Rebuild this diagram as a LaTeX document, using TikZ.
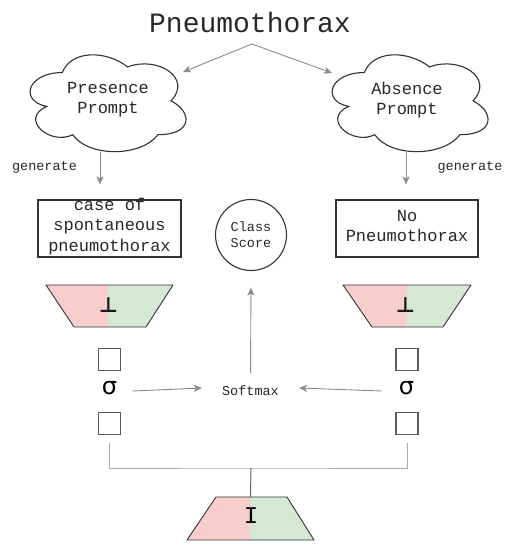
\documentclass[tikz,border=0pt]{standalone}
\usepackage{fontspec}
\setmainfont{Liberation Mono}
\newfontfamily\symfont{DejaVu Sans}
\usetikzlibrary{arrows.meta}
\definecolor{arrc}{RGB}{140,140,140}
\definecolor{linec}{RGB}{170,170,170}
\definecolor{darkc}{RGB}{50,50,50}
\definecolor{txtc}{RGB}{40,40,40}
\definecolor{pinkf}{HTML}{F8CECC}
\definecolor{greenf}{HTML}{D5E8D4}
\tikzset{
  arr/.style={draw=arrc, line width=0.9pt, -{Stealth[length=8pt,width=7pt,inset=2pt]}},
  conn/.style={draw=linec, line width=1pt},
  conndark/.style={draw=gray!80!black, line width=1pt},
  cloudline/.style={draw=darkc, line width=1.1pt, fill=white},
  cloudbox/.style={minimum width=174pt, minimum height=113pt, inner sep=0pt, align=center, text=txtc, font=\fontsize{17}{20}\selectfont},
  textbox/.style={draw=darkc, line width=1.1pt, minimum width=143pt, minimum height=57pt, inner sep=0pt},
  boxtext/.style={align=center, text=txtc, inner sep=0pt, font=\fontsize{17}{20.5}\selectfont},
  smallsq/.style={draw=darkc!80, line width=1.3pt, minimum size=22pt, inner sep=0pt},
  sigmanode/.style={inner sep=0pt, text=black, font=\symfont\fontsize{24}{24}\selectfont},
  labeltext/.style={text=txtc, inner sep=0pt, font=\fontsize{13.5}{16}\selectfont},
  trapnode/.style={inner sep=0pt, minimum width=127pt, minimum height=42pt},
  perpnode/.style={inner sep=0pt, text=black!90, font=\symfont\bfseries\fontsize{21}{21}\selectfont},
}
\newcommand\mycloud[3]{%
  \draw[cloudline, shift={(#1.north west)}]
    ({0.25*#2},{0.25*#3}) .. controls ({0.05*#2},{0.25*#3}) and (0,{0.5*#3}) .. ({0.16*#2},{0.55*#3})
    .. controls (0,{0.66*#3}) and ({0.18*#2},{0.9*#3}) .. ({0.31*#2},{0.8*#3})
    .. controls ({0.4*#2},{#3}) and ({0.7*#2},{#3}) .. ({0.8*#2},{0.8*#3})
    .. controls ({#2},{0.8*#3}) and ({#2},{0.6*#3}) .. ({0.875*#2},{0.5*#3})
    .. controls ({#2},{0.3*#3}) and ({0.8*#2},{0.1*#3}) .. ({0.625*#2},{0.2*#3})
    .. controls ({0.5*#2},{0.05*#3}) and ({0.3*#2},{0.05*#3}) .. ({0.25*#2},{0.25*#3}) -- cycle;}
% #1 ytop, #2 ybot, #3 xtl, #4 xtr, #5 xbl, #6 xbr, #7 split
\newcommand\mytrap[7]{%
  \fill[pinkf] (#3,#1) -- (#7,#1) -- (#7,#2) -- (#5,#2) -- cycle;
  \fill[greenf] (#7,#1) -- (#4,#1) -- (#6,#2) -- (#7,#2) -- cycle;
  \draw[darkc, line width=0.9pt, line join=round] (#3,#1) -- (#4,#1) -- (#6,#2) -- (#5,#2) -- cycle;}
\begin{document}
\begin{tikzpicture}[x=1pt,y=-1pt]
\useasboundingbox[fill=white] (0,0) rectangle (516,544);

% title
\node (title) [inner sep=0pt, text=txtc, font=\fontsize{28}{30}\selectfont] at (250,22) {Pneumothorax};

% clouds
\node (pc) [cloudbox] at (106,101) {};
\node (ac) [cloudbox] at (408,101) {};
\mycloud{pc}{174}{113}
\mycloud{ac}{174}{113}
\node (pct) [cloudbox, minimum width=0pt, minimum height=0pt] at (108,100) {Presence\\Prompt};
\node (act) [cloudbox, minimum width=0pt, minimum height=0pt] at (407,100) {Absence\\Prompt};

% title arrows
\coordinate (tb) at (252,44);
\draw[arr] (tb) -- (183,72);
\draw[arr] (tb) -- (332,73);

% boxes
\node (b1) [textbox] at (109.5,228.5) {};
\node (b2) [textbox, minimum width=142pt] at (407,228.5) {};
\node (b1t) [boxtext] at (109.5,226.5) {case of\\spontaneous\\pneumothorax};
\node (b2t) [boxtext] at (407,226) {No\\Pneumothorax};

% generate arrows
\draw[arr, shorten >=15pt] ([xshift=-6pt,yshift=6pt]pc.south) -- ([xshift=-6pt]pc.south |- b1.north);
\draw[arr, shorten >=15pt] ([xshift=-2pt,yshift=6pt]ac.south) -- ([xshift=-2pt]ac.south |- b2.north);
\node (g1) [labeltext] at (44.5,167) {generate};
\node (g2) [labeltext] at (470,167) {generate};

% class score
\node (cs) [circle, draw=darkc, line width=1.1pt, minimum size=71pt, inner sep=0pt, align=center, text=txtc, font=\fontsize{13.5}{16}\selectfont] at (251,235) {Class\\Score};

% trapezoids
\node (t1) [trapnode] at (109.5,306) {};
\node (t2) [trapnode] at (407,306) {};
\mytrap{285}{327}{46}{173}{74}{146}{108}
\mytrap{285}{327}{343}{471}{372}{443}{407}
\node (t1l) [perpnode] at (108.5,305) {⊥};
\node (t2l) [perpnode] at (405.5,305) {⊥};

% squares and sigma
\node (q1a) [smallsq] at (109.5,359.5) {};
\node (q1b) [smallsq] at (109.5,423.5) {};
\node (q2a) [smallsq] at (407,359.5) {};
\node (q2b) [smallsq] at (407,423.5) {};
\node (s1) [sigmanode] at (109.5,388) {σ};
\node (s2) [sigmanode] at (406.5,388) {σ};

% softmax
\node (sm) [labeltext, text height=10pt, text depth=3pt] at (250.5,392) {Softmax};
\draw[arr, shorten <=12pt, shorten >=16.5pt] (sm.north) -- (cs.south);
\draw[arr] ([xshift=15pt,yshift=-3pt]s1.east) -- ([xshift=-20pt]sm.west |- s1.east);
\draw[arr] ([xshift=-17pt,yshift=-3pt]s2.west) -- ([xshift=20pt]sm.east |- s2.west);

% bottom trapezoid
\node (ti) [trapnode, minimum height=43pt] at (250.5,518.5) {};
\mytrap{497}{540}{216}{287}{187}{314}{250}
\node (til) [inner sep=0pt, text=black, font=\fontsize{24}{24}\selectfont] at (251,516) {I};

% connectors
\coordinate (mj) at (251,468);
\draw[conn] ([yshift=-7.5pt]q1b.south) |- (mj) -| ([yshift=-7.5pt]q2b.south);
\draw[conndark] (mj) -- (ti.north);
\end{tikzpicture}
\end{document}
